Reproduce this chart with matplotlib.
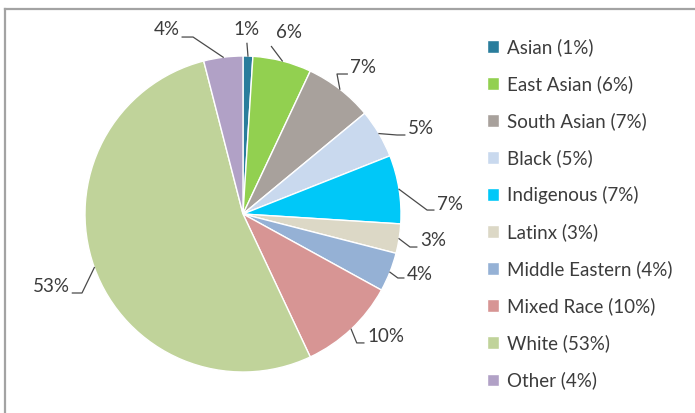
import numpy as np
import matplotlib
matplotlib.use('Agg')
import matplotlib.pyplot as plt
from matplotlib.lines import Line2D

groups = ['Asian', 'East Asian', 'South Asian', 'Black', 'Indigenous',
          'Latinx', 'Middle Eastern', 'Mixed Race', 'White', 'Other']
shares = [1, 6, 7, 5, 7, 3, 4, 10, 53, 4]
colors = ['#2a7d9c', '#92d050', '#a8a19c', '#c9d9ee', '#00c8f8',
          '#dcd8c6', '#95b1d5', '#d79594', '#c0d39a', '#b1a1c6']

# label placement in pie units (radius = 1): text anchor, elbow of leader, side
label_pos = [(0.025, 1.165), (0.29, 1.15), (0.68, 0.93), (1.044, 0.544),
             (1.228, 0.057), (1.12, -0.165), (1.038, -0.386), (0.785, -0.778),
             (-1.095, -0.462), (-0.40, 1.165)]
elbow_pos = [(0.025, 1.08), (0.18, 1.06), (0.595, 0.886), (0.975, 0.50),
             (1.165, 0.025), (1.057, -0.209), (0.98, -0.405), (0.72, -0.816),
             (-1.019, -0.50), (-0.316, 1.12)]
sides = ['c', 'c', 'r', 'r', 'r', 'r', 'r', 'r', 'l', 'l']

W, H = 695, 413
cx, cy, R = 243, 199, 158
half = 199

plt.rcParams['font.family'] = ['Lato', 'DejaVu Sans']
txt = '#3c3c3c'
fs = 13.5

fig = plt.figure(figsize=(W / 100, H / 100), dpi=100)
ax = fig.add_axes([(cx - half) / W, (cy - half) / H, 2 * half / W, 2 * half / H])

wedges, _ = ax.pie(shares, colors=colors, startangle=90, counterclock=False,
                   radius=1, wedgeprops=dict(edgecolor='white', linewidth=1.0))
lim = half / R
ax.set_xlim(-lim, lim)
ax.set_ylim(-lim, lim)
ax.set_aspect('equal')
ax.axis('off')

for w, v, (tx, ty), (ex, ey), s in zip(wedges, shares, label_pos, elbow_pos, sides):
    a = np.deg2rad(0.5 * (w.theta1 + w.theta2))
    x0, y0 = np.cos(a), np.sin(a)
    xs, ys = [x0, ex], [y0, ey]
    if s == 'r':
        xs.append(tx - 0.02); ys.append(ey)
        ha = 'left'
    elif s == 'l':
        xs.append(tx + 0.015); ys.append(ey)
        ha = 'right'
    else:
        ha = 'center'
    ax.plot(xs, ys, color='#4a4a4a', lw=0.9, clip_on=False)
    ax.text(tx, ty, '{:d}%'.format(v), ha=ha, va='center', fontsize=fs,
            color=txt, clip_on=False)

leg = fig.legend(wedges, ['{} ({:d}%)'.format(g, v) for g, v in zip(groups, shares)],
                 loc='upper left', bbox_to_anchor=(487 / W, 1 - 38 / H),
                 frameon=False, fontsize=fs, handlelength=0.65, handleheight=0.65,
                 handletextpad=0.4, labelspacing=1.02, borderpad=0, borderaxespad=0)
for t in leg.get_texts():
    t.set_color(txt)

# chart border (top and left edges)
fig.add_artist(Line2D([5 / W, 1], [1 - 9 / H, 1 - 9 / H], transform=fig.transFigure,
                      color='#a3a3a3', lw=1.6))
fig.add_artist(Line2D([5 / W, 5 / W], [0, 1 - 9 / H], transform=fig.transFigure,
                      color='#a3a3a3', lw=1.6))

fig.savefig('out.png', dpi=100)
